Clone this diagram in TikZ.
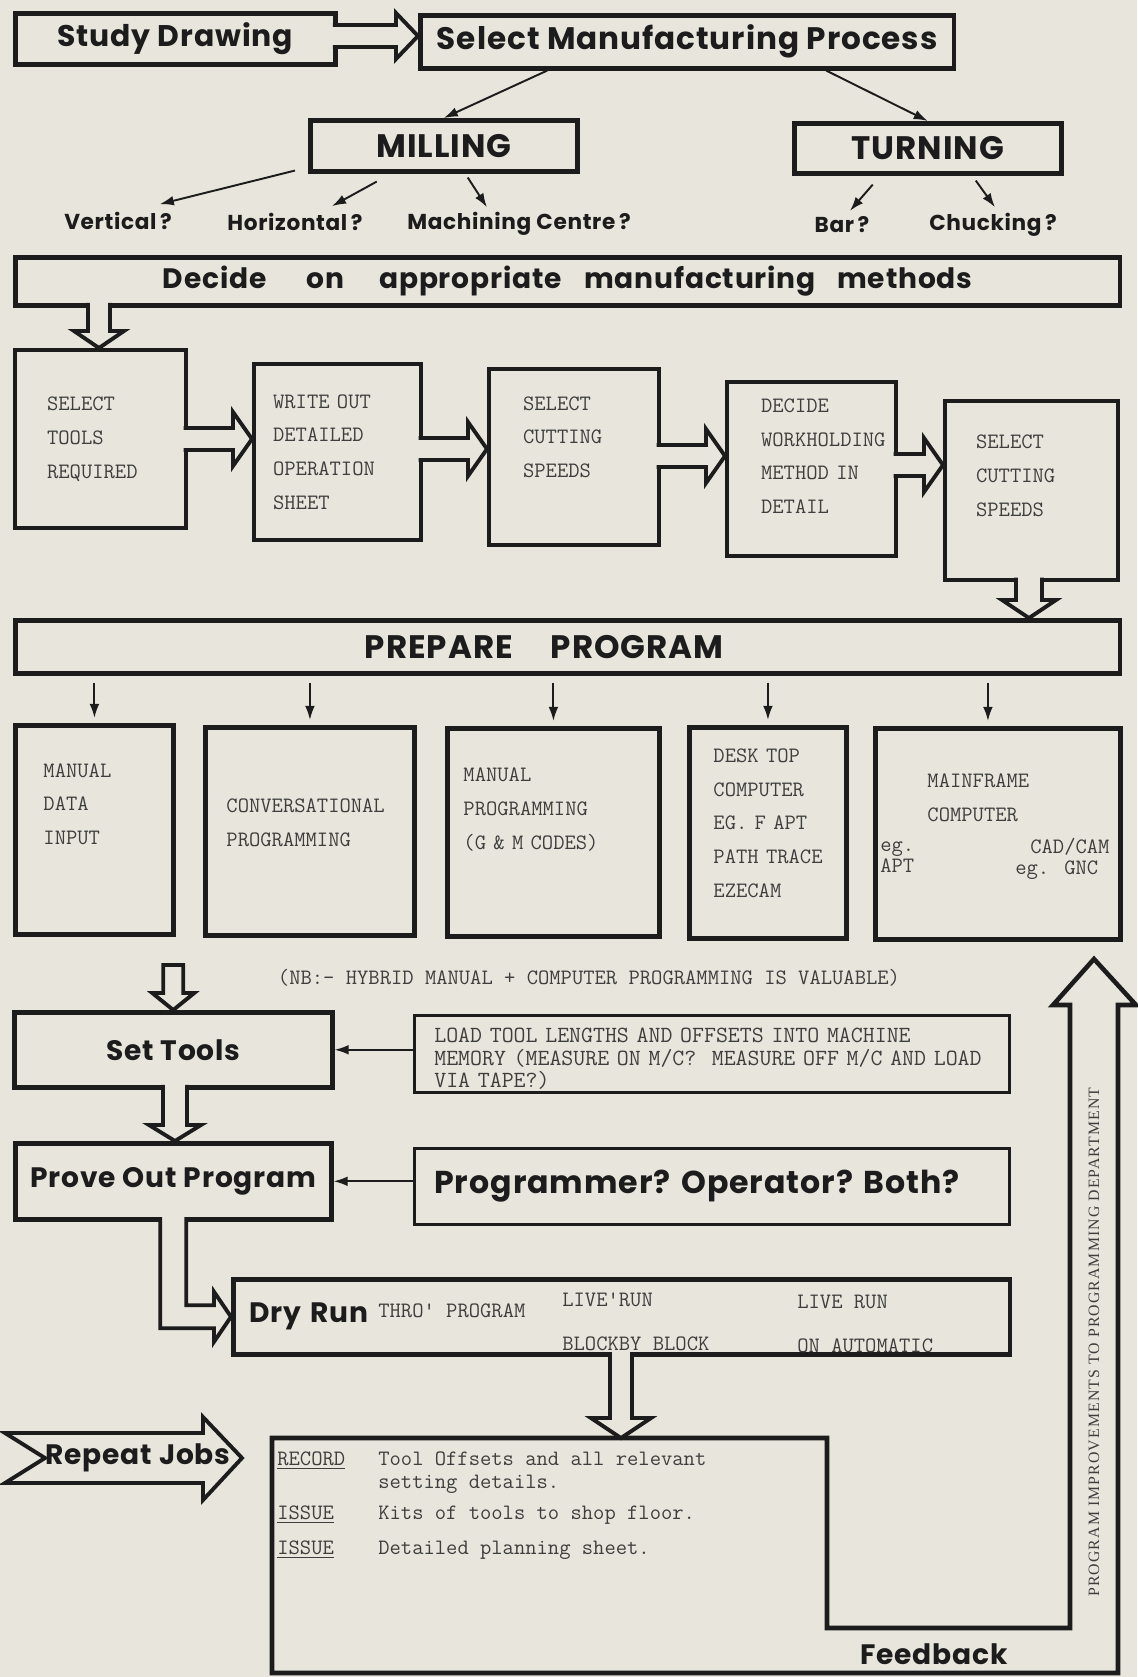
\documentclass[tikz,border=0pt]{standalone}
\usepackage{fontspec}
\usetikzlibrary{positioning,calc,arrows.meta}

\newfontfamily\headfont{Poppins}[LetterSpace=3]
\newfontfamily\sidefont{Liberation Serif}[LetterSpace=7]
\definecolor{paper}{RGB}{232,230,220}
\definecolor{ink}{RGB}{28,28,28}
\definecolor{typed}{RGB}{62,62,62}
\hfuzz=300pt
\newcommand{\lift}[1]{\rule[-#1]{0pt}{#1}}

% hollow arrow to the right: from, to, half shaft, half head, head length
\newcommand{\hollowright}[5]{%
  \fill[paper] let \p1=(#1), \p2=(#2) in
    (\x1-3pt,\y1+#3) rectangle (\x2-#5,\y1-#3)
    (\x2-#5,\y1+#4) -- (\x2,\y1) -- (\x2-#5,\y1-#4) -- cycle;
  \draw[hollow] let \p1=(#1), \p2=(#2) in
    (\x1-2.6pt,\y1+#3) -- (\x2-#5,\y1+#3) -- (\x2-#5,\y1+#4) -- (\x2,\y1)
    -- (\x2-#5,\y1-#4) -- (\x2-#5,\y1-#3) -- (\x1-2.6pt,\y1-#3);}
% hollow arrow downwards
\newcommand{\hollowdown}[5]{%
  \fill[paper] let \p1=(#1), \p2=(#2) in
    (\x1-#3,\y1+3pt) rectangle (\x1+#3,\y2+#5)
    (\x1-#4,\y2+#5) -- (\x1,\y2) -- (\x1+#4,\y2+#5) -- cycle;
  \draw[hollow] let \p1=(#1), \p2=(#2) in
    (\x1-#3,\y1+2.6pt) -- (\x1-#3,\y2+#5) -- (\x1-#4,\y2+#5) -- (\x1,\y2)
    -- (\x1+#4,\y2+#5) -- (\x1+#3,\y2+#5) -- (\x1+#3,\y1+2.6pt);}

\begin{document}
\begin{tikzpicture}[x=0.02cm, y=-0.02cm]
	\tikzstyle{block} = [draw=ink, line width=2.6pt, anchor=north west, inner sep=0pt, text=ink, font=\headfont\bfseries\fontsize{16}{18}\selectfont]
	\tikzstyle{sheet} = [block, line width=2.4pt, align=left, text=typed, font=\ttfamily\fontsize{12.5}{19.2}\selectfont]
	\tikzstyle{note} = [draw=ink, line width=1.5pt, anchor=north west, inner sep=0pt, align=left]
	\tikzstyle{ask} = [inner sep=1pt, text=ink, font=\headfont\bfseries\fontsize{12.3}{14}\selectfont]
	\tikzstyle{typing} = [inner sep=0pt, anchor=west, align=left, text=typed, font=\ttfamily\fontsize{12.5}{13}\selectfont]
	\tikzstyle{link} = [draw=ink, line width=1.1pt, -{Latex[length=8pt,width=5.5pt]}]
	\tikzstyle{hollow} = [draw=ink, line width=2.2pt, line join=miter]

	\fill[paper] (0,0) rectangle (1137,1677);
	\useasboundingbox (0,0) rectangle (1137,1677);

	% process choice
	\node[block, minimum width=6.4cm, minimum height=1.02cm, font=\headfont\bfseries\fontsize{17}{19}\selectfont] (sd) at (13,11) {Study Drawing};
	\node[block, minimum width=10.68cm, minimum height=1.06cm, font=\headfont\bfseries\fontsize{17.7}{19}\selectfont] (smp) at (418,13) {Select Manufacturing Process};
	\node[block, minimum width=5.34cm, minimum height=1.02cm, font=\headfont\bfseries\fontsize{18.5}{20}\selectfont] (mil) at (308,118) {MILLING};
	\node[block, minimum width=5.34cm, minimum height=1cm, font=\headfont\bfseries\fontsize{18.5}{20}\selectfont] (trn) at (792,121) {TURNING};

	\node[ask] (vert) at (118,221) {Vertical\,?};
	\node[ask] (hor) at (295,222) {Horizontal\,?};
	\node[ask] (mc) at (519,224) {Machining Centre\,?};
	\node[ask] (bar) at (842,225) {Bar\,?};
	\node[ask] (chk) at (993,225) {Chucking\,?};

	\node[block, minimum width=22.1cm, minimum height=0.96cm] (dec) at (13,255) {Decide\hspace{0.81cm}on\hspace{0.69cm}appropriate\hspace{0.44cm}manufacturing\hspace{0.43cm}methods};

	% planning
	\node[sheet, minimum width=3.42cm, minimum height=3.56cm, text width=2.14cm, inner xsep=0.64cm] (st1) at (13,348) {SELECT\\TOOLS\\REQUIRED};
	\node[sheet, minimum width=3.34cm, minimum height=3.52cm, text width=2.58cm, inner xsep=0.38cm] (st2) at (252,362) {\mbox{WRITE OUT}\\DETAILED\\OPERATION\\SHEET};
	\node[sheet, minimum width=3.4cm, minimum height=3.52cm, text width=2.04cm, inner xsep=0.68cm] (st3) at (487,367) {SELECT\\CUTTING\\SPEEDS\lift{0.8cm}};
	\node[sheet, minimum width=3.38cm, minimum height=3.48cm, text width=2.02cm, inner xsep=0.68cm] (st4) at (725,380) {DECIDE\\WORKHOLDING\\\mbox{METHOD IN}\\DETAIL\lift{0.52cm}};
	\node[sheet, minimum width=3.46cm, minimum height=3.58cm, text width=2.22cm, inner xsep=0.62cm] (st5) at (943,399) {SELECT\\CUTTING\\SPEEDS\lift{0.6cm}};

	\node[block, minimum width=22.1cm, minimum height=1.06cm, font=\headfont\bfseries\fontsize{18.5}{20}\selectfont] (pp) at (13,618) {PREPARE\hspace{0.76cm}PROGRAM\kern0.94cm};

	% programming routes
	\node[sheet, line width=2.8pt, minimum width=3.16cm, minimum height=4.18cm, text width=2.04cm, inner xsep=0.56cm] (pr1) at (13,723) {MANUAL\\DATA\\INPUT\lift{1.04cm}};
	\node[sheet, line width=2.8pt, minimum width=4.18cm, minimum height=4.16cm, text width=3.34cm, inner xsep=0.42cm] (pr2) at (203,725) {CONVERSATIONAL\\PROGRAMMING\lift{0.36cm}};
	\node[sheet, line width=2.8pt, minimum width=4.24cm, minimum height=4.16cm, text width=3.6cm, inner xsep=0.32cm] (pr3) at (445,726) {MANUAL\\PROGRAMMING\\\mbox{(G \& M CODES)}\lift{0.96cm}};
	\node[sheet, line width=2.8pt, minimum width=3.14cm, minimum height=4.22cm, text width=2.18cm, inner xsep=0.48cm] (pr4) at (687,725) {\mbox{DESK TOP}\\COMPUTER\\\mbox{EG. F APT}\\\mbox{PATH TRACE}\\EZECAM\lift{0.4cm}};
	\node[sheet, line width=2.8pt, minimum width=4.9cm, minimum height=4.22cm, text width=2.82cm, inner xsep=1.04cm] (pr5) at (873,726) {MAINFRAME\\COMPUTER\lift{1.46cm}};
	\node[typing, font=\ttfamily\fontsize{12.5}{12}\selectfont] (apt) at (880,857) {eg.\\APT};
	\node[typing] (cad) at (1030,847) {CAD/CAM};
	\node[typing] (gnc) at (1015,870) {eg. GNC};

	\node[typing, anchor=center, font=\ttfamily\fontsize{12.5}{13}\selectfont] (nb) at (589,978) {(NB:- HYBRID MANUAL + COMPUTER PROGRAMMING IS VALUABLE)};

	% setting and proving
	\node[block, minimum width=6.36cm, minimum height=1.5cm] (set) at (12,1010) {Set Tools};
	\node[note, text=typed, font=\ttfamily\fontsize{13.2}{12.8}\selectfont, minimum width=11.9cm, minimum height=1.54cm, text width=11.1cm, inner xsep=0.4cm] (load) at (413,1014) {\rule{0pt}{14pt}LOAD TOOL LENGTHS AND OFFSETS INTO MACHINE\\MEMORY (MEASURE ON M/C?\ \ MEASURE OFF M/C AND LOAD\\VIA TAPE?)};
	\node[block, minimum width=6.32cm, minimum height=1.52cm] (po) at (13,1141) {Prove Out Program};
	\node[note, text=ink, font=\headfont\bfseries\fontsize{18}{20}\selectfont, minimum width=11.9cm, minimum height=1.52cm, text width=11.1cm, inner xsep=0.4cm] (prog) at (413,1147) {Programmer?\ Operator?\ Both?};

	\node[block, align=left, minimum width=15.54cm, minimum height=1.5cm, text width=14.9cm, inner xsep=0.32cm] (dr) at (231,1277) {Dry Run};
	\node[typing] (thro) at (378,1311) {THRO' PROGRAM};
	\node[typing] (lr1) at (562,1300) {LIVE'RUN};
	\node[typing] (bb) at (562,1344) {BLOCKBY BLOCK};
	\node[typing] (lr2) at (797,1302) {LIVE RUN};
	\node[typing] (oa) at (797,1346) {ON AUTOMATIC};

	% record and feedback
	\coordinate (rectop) at (621,1438);
	\draw[ink, line width=2.6pt, line join=miter] (272,1438) -- (rectop) -- (827,1438) -- (827,1628) -- (1070,1628) -- (1070,1005) -- (1053,1005) -- (1094,959) -- (1136,1005) -- (1118,1005) -- (1118,1673) -- (272,1673) -- cycle;
	\node[anchor=north west, inner sep=0pt, text=typed, font=\ttfamily\fontsize{12.5}{13}\selectfont] (rec) at (277,1449) {\begin{tabular}{@{}p{2.02cm}@{}l@{}}
		\underline{RECORD} & Tool Offsets and all relevant\\
		& setting details.\\[5pt]
		\underline{ISSUE} & Kits of tools to shop floor.\\[7pt]
		\underline{ISSUE} & Detailed planning sheet.
	\end{tabular}};
	\node[rotate=90, text=typed, font=\sidefont\fontsize{9}{9}\selectfont] (impr) at (1094,1342) {PROGRAM IMPROVEMENTS TO PROGRAMMING DEPARTMENT};
	\node[ask, font=\headfont\bfseries\fontsize{16}{18}\selectfont] (fb) at (934,1654) {Feedback};

	\draw[hollow] (5,1433) -- (203,1433) -- (203,1417) -- (242,1458) -- (203,1500) -- (203,1483) -- (5,1483) -- (45,1458) -- cycle;
	\node[ask, font=\headfont\bfseries\fontsize{16}{18}\selectfont] (rj) at (138,1458) {Repeat Jobs};

	% connectors
	\hollowright{sd.east |- 0,36}{smp.west}{0.22cm}{0.46cm}{0.44cm}
	\draw[link] ([xshift=-2.8cm]smp.south) -- (mil.north);
	\draw[link] ([xshift=2.78cm]smp.south) -- (trn.north);
	\draw[link] ([shift={(-13,-3)}]mil.south west) -- ([shift={(-14,-6)}]vert.north east);
	\draw[link] ([shift={(-67,8)}]mil.south) -- ([shift={(37,-5)}]hor.north);
	\draw[link] ([shift={(24,4)}]mil.south) -- ([shift={(-32,-3)}]mc.north);
	\draw[link] ([shift={(-55,9)}]trn.south) -- ([shift={(8,-4)}]bar.north);
	\draw[link] ([shift={(48,5)}]trn.south) -- ([shift={(2,-4)}]chk.north);

	\hollowdown{dec.south -| 99,0}{st1.north}{0.22cm}{0.5cm}{0.34cm}
	\hollowright{st1.east |- 0,439}{st2.west}{0.22cm}{0.54cm}{0.38cm}
	\hollowright{st2.east |- 0,449}{st3.west}{0.22cm}{0.54cm}{0.38cm}
	\hollowright{st3.east |- 0,456}{st4.west}{0.22cm}{0.54cm}{0.38cm}
	\hollowright{st4.east |- 0,465}{st5.west}{0.22cm}{0.54cm}{0.38cm}
	\hollowdown{st5.south -| 1029,0}{pp.north}{0.26cm}{0.54cm}{0.36cm}

	\draw[link] ($(pp.south -| pr1.north)+(0,7)$) -- ($(pr1.north)+(0,-5)$);
	\draw[link] ($(pp.south -| pr2.north)+(0,7)$) -- ($(pr2.north)+(0,-5)$);
	\draw[link] ($(pp.south -| pr3.north)+(0,7)$) -- ($(pr3.north)+(0,-5)$);
	\draw[link] ($(pp.south -| pr4.north)+(0,7)$) -- ($(pr4.north)+(0,-5)$);
	\draw[link] ($(pp.south -| pr5.north)+(-10,7)$) -- ($(pr5.north)+(-10,-5)$);

	\draw[hollow, fill=paper] (set.north) -- ++(-21,-17) -- ++(11,0) -- ++(0,-28) -- ++(20,0) -- ++(0,28) -- ++(11,0) -- cycle;
	\draw[link] (load.west |- set.east) -- (set.east);
	\hollowdown{set.south -| 175,0}{po.north}{0.24cm}{0.52cm}{0.32cm}
	\draw[link] (prog.west |- po.east) -- (po.east);

	\fill[paper] let \p1=(po.south), \p2=(dr.west) in (\x1-0.26cm,\y1+3pt) -- (\x1-0.26cm,\y2-0.23cm) -- (\x2-0.34cm,\y2-0.23cm) -- (\x2-0.34cm,\y2-0.5cm) -- (\x2,\y2) -- (\x2-0.34cm,\y2+0.5cm) -- (\x2-0.34cm,\y2+0.23cm) -- (\x1+0.26cm,\y2+0.23cm) -- (\x1+0.26cm,\y1+3pt) -- cycle;
	\draw[hollow] let \p1=(po.south), \p2=(dr.west) in (\x1-0.26cm,\y1+2.6pt) -- (\x1-0.26cm,\y2-0.23cm) -- (\x2-0.34cm,\y2-0.23cm) -- (\x2-0.34cm,\y2-0.5cm) -- (\x2,\y2) -- (\x2-0.34cm,\y2+0.5cm) -- (\x2-0.34cm,\y2+0.23cm) -- (\x1+0.26cm,\y2+0.23cm) -- (\x1+0.26cm,\y1+2.6pt);

	\hollowdown{dr.south -| 621,0}{rectop}{0.22cm}{0.6cm}{0.4cm}
\end{tikzpicture}
\end{document}
